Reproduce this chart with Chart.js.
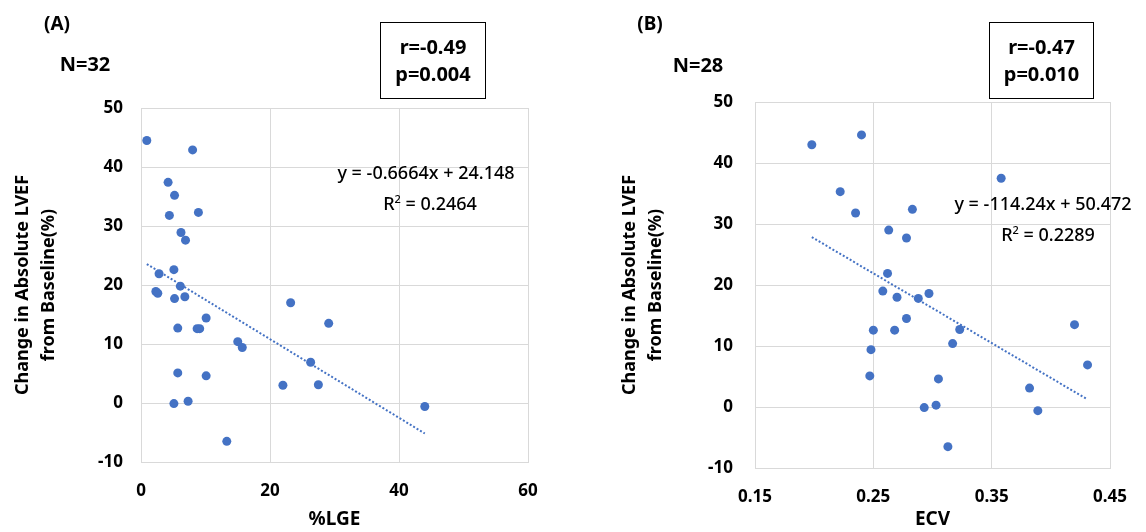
<!DOCTYPE html>
<html>
<head>
<meta charset="utf-8">
<script src="https://cdn.jsdelivr.net/npm/chart.js@4.4.1/dist/chart.umd.min.js"></script>
<style>
body{margin:0;background:#fff;font-family:"Noto Sans",sans-serif;}
#wrap{position:relative;width:1146px;height:532px;overflow:hidden;}
canvas{position:absolute;top:0;}
.lbl{position:absolute;font-weight:bold;color:#000;white-space:nowrap;line-height:1;transform:translate(-50%,-50%);}
.box{position:absolute;border:1.5px solid #000;box-sizing:border-box;text-align:center;font-weight:bold;font-size:20px;line-height:27px;padding-top:10px;}
.eq{font-size:18px;font-weight:500;}
.eq sup{font-size:11px;vertical-align:7px;}
</style>
</head>
<body>
<div id="wrap">
  <canvas id="chartA" width="573" height="532" style="left:0"></canvas>
  <canvas id="chartB" width="573" height="532" style="left:573px"></canvas>

  <div class="lbl" style="left:57px;top:23px;font-size:19px">(A)</div>
  <div class="lbl" style="left:85px;top:64px;font-size:20px">N=32</div>
  <div class="box" style="left:380px;top:22px;width:106px;height:77px">r=-0.49<br>p=0.004</div>
  <div class="lbl eq" style="left:426px;top:172px">y = -0.6664x + 24.148</div>
  <div class="lbl eq" style="left:430px;top:202px">R<sup>2</sup> = 0.2464</div>

  <div class="lbl" style="left:650px;top:23px;font-size:19px">(B)</div>
  <div class="lbl" style="left:698px;top:65px;font-size:20px">N=28</div>
  <div class="box" style="left:989px;top:22px;width:105px;height:77px">r=-0.47<br>p=0.010</div>
  <div class="lbl eq" style="left:1043px;top:203px">y = -114.24x + 50.472</div>
  <div class="lbl eq" style="left:1048px;top:233px">R<sup>2</sup> = 0.2289</div>
</div>
<script>
// (A) %LGE vs change in LVEF
const lgeX = [0.9, 8.0, 4.2, 5.2, 4.4, 8.9, 6.2, 6.9, 5.1, 2.8, 6.1, 2.3, 2.6, 5.2, 6.8, 23.2,
              29.1, 10.1, 5.7, 8.7, 9.1, 15.0, 15.7, 26.3, 5.7, 10.1, 22.0, 27.5, 5.1, 7.3, 13.3, 44.0];
const lgeY = [44.5, 42.9, 37.4, 35.2, 31.8, 32.3, 28.9, 27.6, 22.6, 21.9, 19.8, 18.9, 18.6, 17.7, 18.0, 17.0,
              13.5, 14.4, 12.7, 12.6, 12.6, 10.4, 9.4, 6.9, 5.1, 4.6, 3.0, 3.1, -0.1, 0.3, -6.5, -0.6];
const lgeTrendX = [0.9, 44.0];
const lgeTrendY = [23.55, -5.17];

// (B) ECV vs change in LVEF
const ecvX = [0.198, 0.240, 0.222, 0.235, 0.358, 0.283, 0.263, 0.278, 0.262, 0.258, 0.270, 0.288, 0.297, 0.278,
              0.250, 0.268, 0.323, 0.317, 0.420, 0.431, 0.248, 0.247, 0.305, 0.382, 0.389, 0.293, 0.303, 0.313];
const ecvY = [43.0, 44.6, 35.3, 31.8, 37.5, 32.4, 29.0, 27.7, 21.9, 19.0, 18.0, 17.8, 18.6, 14.5,
              12.6, 12.6, 12.7, 10.4, 13.5, 6.9, 9.4, 5.1, 4.6, 3.1, -0.6, -0.1, 0.3, -6.5];
const ecvTrendX = [0.198, 0.431];
const ecvTrendY = [27.85, 1.23];

const yTicks = [-10, 0, 10, 20, 30, 40, 50];
const yTitle = ['Change in Absolute LVEF', 'from Baseline(%)'];

const blue = '#4472C4';
const gridCol = '#d9d9d9';
const fontFam = '"Noto Sans", sans-serif';

function pts(xs, ys) {
    return xs.map((x, i) => ({ x: x, y: ys[i] }));
}

function makeChart(id, cfg) {
    const ctx = document.getElementById(id).getContext('2d');
    return new Chart(ctx, {
        type: 'scatter',
        data: {
            datasets: [{
                data: pts(cfg.xs, cfg.ys),
                backgroundColor: blue,
                borderWidth: 0,
                pointRadius: 4.5,
            }, {
                type: 'line',
                data: pts(cfg.tx, cfg.ty),
                borderColor: blue,
                borderWidth: 2,
                borderDash: [2, 2],
                pointRadius: 0,
                fill: false,
            }],
        },
        options: {
            responsive: false,
            animation: false,
            layout: { padding: { left: cfg.padLeft, top: cfg.padTop, right: cfg.padRight, bottom: 0 } },
            plugins: { legend: { display: false }, tooltip: { enabled: false } },
            scales: {
                x: {
                    type: 'linear',
                    min: cfg.xMin, max: cfg.xMax,
                    ticks: {
                        stepSize: cfg.xStep,
                        padding: 19,
                        color: '#000',
                        font: { family: fontFam, size: 17, weight: 'bold' },
                        callback: v => cfg.xFmt(v),
                    },
                    grid: { color: gridCol, drawTicks: false },
                    border: { color: gridCol },
                    title: {
                        display: true, text: cfg.xTitle, color: '#000',
                        font: { family: fontFam, size: 19, weight: 'bold' },
                        padding: { top: 0, bottom: 1 },
                    },
                    afterFit: s => { s.height = cfg.xAxisH; },
                },
                y: {
                    min: -10, max: 50,
                    afterBuildTicks: s => { s.ticks = yTicks.map(v => ({ value: v })); },
                    ticks: {
                        padding: cfg.yPad,
                        color: '#000',
                        font: { family: fontFam, size: 17, weight: 'bold' },
                    },
                    grid: { color: gridCol, drawTicks: false },
                    border: { color: gridCol },
                    title: {
                        display: true, text: yTitle, color: '#000',
                        font: { family: fontFam, size: 18, weight: 'bold', lineHeight: 1.45 },
                        padding: { top: 10, bottom: 0 },
                    },
                    afterFit: s => { s.width = cfg.yAxisW; },
                },
            },
        },
    });
}

makeChart('chartA', {
    xs: lgeX, ys: lgeY, tx: lgeTrendX, ty: lgeTrendY,
    xMin: 0, xMax: 60, xStep: 20, xFmt: v => String(v), xTitle: '%LGE',
    padLeft: 0, padTop: 108, padRight: 45, xAxisH: 70, yAxisW: 141, yPad: 18,
});

makeChart('chartB', {
    xs: ecvX, ys: ecvY, tx: ecvTrendX, ty: ecvTrendY,
    xMin: 0.15, xMax: 0.45, xStep: 0.1, xFmt: v => v.toFixed(2), xTitle: 'ECV',
    padLeft: 34, padTop: 102, padRight: 13, xAxisH: 64, yAxisW: 148, yPad: 22,
});
</script>
</body>
</html>
